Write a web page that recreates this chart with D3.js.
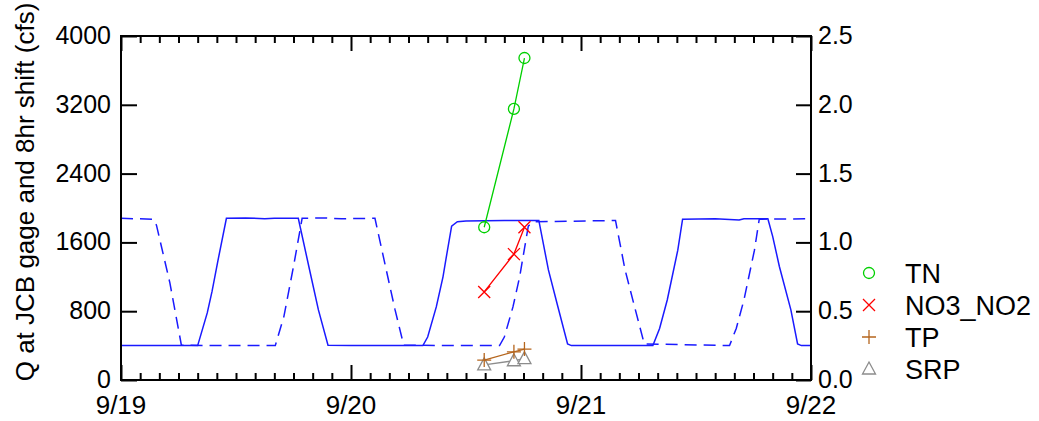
<!DOCTYPE html>
<html><head><meta charset="utf-8">
<script src="https://cdn.jsdelivr.net/npm/d3@7"></script>
<style>body{margin:0;background:#fff}svg{display:block;font-family:"Liberation Sans",Arial,sans-serif}</style>
</head><body><svg id="c" width="1039" height="421"></svg>
<script>
const flowQ = [
["2014-09-19T00:00",400],["2014-09-19T04:00",400],["2014-09-19T08:00",400],["2014-09-19T09:00",780],
["2014-09-19T09:30",1030],["2014-09-19T10:06",1380],["2014-09-19T11:00",1880],["2014-09-19T13:00",1885],
["2014-09-19T15:00",1875],["2014-09-19T16:00",1880],["2014-09-19T18:30",1880],["2014-09-19T19:36",1320],
["2014-09-19T20:36",815],["2014-09-19T21:36",405],["2014-09-20T00:00",400],["2014-09-20T07:30",400],
["2014-09-20T08:00",500],["2014-09-20T08:54",850],["2014-09-20T09:36",1200],["2014-09-20T09:54",1400],
["2014-09-20T10:30",1790],["2014-09-20T11:06",1840],["2014-09-20T12:00",1850],["2014-09-20T16:00",1855],
["2014-09-20T19:36",1855],["2014-09-20T20:36",1280],["2014-09-20T21:30",890],["2014-09-20T22:36",420],
["2014-09-20T23:00",400],["2014-09-21T07:30",400],["2014-09-21T08:12",600],["2014-09-21T09:00",930],
["2014-09-21T10:06",1510],["2014-09-21T10:36",1870],["2014-09-21T14:00",1875],["2014-09-21T16:30",1860],
["2014-09-21T17:00",1875],["2014-09-21T19:30",1875],["2014-09-21T20:00",1670],["2014-09-21T20:42",1320],
["2014-09-21T21:54",815],["2014-09-21T22:36",420],["2014-09-21T23:00",400],["2014-09-22T00:00",400]
];
const flowShift = [
["2014-09-19T00:00",1880],["2014-09-19T03:24",1870],["2014-09-19T03:42",1800],["2014-09-19T05:06",1130],
["2014-09-19T06:18",405],["2014-09-19T10:00",400],["2014-09-19T16:06",400],["2014-09-19T17:00",740],
["2014-09-19T18:00",1320],["2014-09-19T18:54",1880],["2014-09-19T21:00",1885],["2014-09-19T23:00",1875],
["2014-09-20T02:30",1880],["2014-09-20T03:36",1320],["2014-09-20T04:36",815],["2014-09-20T05:30",405],
["2014-09-20T10:00",400],["2014-09-20T15:30",400],["2014-09-20T16:00",500],["2014-09-20T16:54",850],
["2014-09-20T17:36",1200],["2014-09-20T18:30",1790],["2014-09-20T19:06",1840],["2014-09-21T03:36",1855],
["2014-09-21T04:36",1280],["2014-09-21T05:30",890],["2014-09-21T06:36",420],["2014-09-21T15:30",400],
["2014-09-21T16:12",600],["2014-09-21T17:00",930],["2014-09-21T18:06",1510],["2014-09-21T18:36",1870],
["2014-09-22T00:00",1875]
];
const sampleTimes = ["2014-09-20T13:54","2014-09-20T17:00","2014-09-20T18:06"];
const TN = [1.11, 1.97, 2.34];
const NO3_NO2 = [0.64, 0.915, 1.11];
const TP = [0.145, 0.205, 0.225];
const SRP = [0.11, 0.14, 0.155];
const leftTicks = [0, 800, 1600, 2400, 3200, 4000];
const rightTicks = [0, 0.5, 1.0, 1.5, 2.0, 2.5];
const yTitle = "Q at JCB gage and 8hr shift (cfs)";

const parse = d3.timeParse("%Y-%m-%dT%H:%M");
const svg = d3.select("#c");
const L = 121, R = 811, T = 36, B = 380;
const x = d3.scaleTime().domain([parse("2014-09-19T00:00"), parse("2014-09-22T00:00")]).range([L, R]);
const yL = d3.scaleLinear().domain([0, 4000]).range([B, T]);
const yR = d3.scaleLinear().domain([0, 2.5]).range([B, T]);

const blue = "#1a1aff";
const line = d3.line().x(d => x(parse(d[0]))).y(d => yL(d[1]));
svg.append("path").attr("d", line(flowShift)).attr("fill", "none").attr("stroke", blue)
  .attr("stroke-width", 1.5).attr("stroke-dasharray", "12,7");
svg.append("path").attr("d", line(flowQ)).attr("fill", "none").attr("stroke", blue).attr("stroke-width", 1.5);

const series = [
  {name: "TN", vals: TN, color: "#00d000", sym: "circle"},
  {name: "NO3_NO2", vals: NO3_NO2, color: "#ff0000", sym: "x"},
  {name: "TP", vals: TP, color: "#b5651d", sym: "plus"},
  {name: "SRP", vals: SRP, color: "#8c8c8c", sym: "tri"}
];
function marker(g, sym, cx, cy, color) {
  if (sym === "circle") g.append("circle").attr("cx", cx).attr("cy", cy).attr("r", 5.5).attr("fill", "none").attr("stroke", color).attr("stroke-width", 1.3);
  else if (sym === "x") g.append("path").attr("d", `M${cx-6},${cy-6}L${cx+6},${cy+6}M${cx-6},${cy+6}L${cx+6},${cy-6}`).attr("stroke", color).attr("stroke-width", 1.3);
  else if (sym === "plus") g.append("path").attr("d", `M${cx-7},${cy}L${cx+7},${cy}M${cx},${cy-7}L${cx},${cy+7}`).attr("stroke", color).attr("stroke-width", 1.3);
  else g.append("path").attr("d", `M${cx},${cy-7}L${cx+6.5},${cy+5}L${cx-6.5},${cy+5}Z`).attr("fill", "#fff").attr("stroke", color).attr("stroke-width", 1.3);
}
const nline = d3.line().x((d, i) => x(parse(sampleTimes[i]))).y(d => yR(d));
[...series].reverse().forEach(s => {
  const g = svg.append("g");
  g.append("path").attr("d", nline(s.vals)).attr("fill", "none").attr("stroke", s.color).attr("stroke-width", 1.3);
  s.vals.forEach((v, i) => marker(g, s.sym, x(parse(sampleTimes[i])), yR(v), s.color));
});

// axes
const days = d3.timeDay.range(parse("2014-09-19T00:00"), parse("2014-09-22T00:01"));
const minors = d3.timeHour.every(2).range(parse("2014-09-19T00:00"), parse("2014-09-22T00:01")).filter(d => d.getHours() !== 0);
const fmt = d3.timeFormat("%-m/%-d");
const ax = svg.append("g").attr("stroke", "#000").attr("stroke-width", 2);
ax.append("g").attr("transform", `translate(0,${B})`).call(d3.axisBottom(x).tickValues(minors).tickSize(-7).tickFormat("")).call(g => g.select(".domain").remove());
ax.append("g").attr("transform", `translate(0,${B})`).call(d3.axisBottom(x).tickValues(days).tickSize(-15).tickFormat("")).call(g => g.select(".domain").remove());
ax.append("g").attr("transform", `translate(0,${T})`).call(d3.axisTop(x).tickValues(minors).tickSize(-7).tickFormat("")).call(g => g.select(".domain").remove());
ax.append("g").attr("transform", `translate(0,${T})`).call(d3.axisTop(x).tickValues(days).tickSize(-15).tickFormat("")).call(g => g.select(".domain").remove());
ax.append("g").attr("transform", `translate(${L},0)`).call(d3.axisLeft(yL).tickValues(leftTicks).tickSize(-16).tickFormat("")).call(g => g.select(".domain").remove());
ax.append("g").attr("transform", `translate(${R},0)`).call(d3.axisRight(yR).tickValues(rightTicks).tickSize(-15).tickFormat("")).call(g => g.select(".domain").remove());
svg.selectAll(".tick line").attr("stroke", "#000").attr("stroke-width", 2);
svg.append("rect").attr("x", L).attr("y", T).attr("width", R - L).attr("height", B - T)
  .attr("fill", "none").attr("stroke", "#000").attr("stroke-width", 2);

// labels
const tg = svg.append("g").attr("fill", "#000");
leftTicks.forEach(v => tg.append("text").attr("x", 111).attr("y", yL(v) + 8).attr("text-anchor", "end").attr("font-size", 25).text(v));
rightTicks.forEach(v => tg.append("text").attr("x", 818).attr("y", yR(v) + 8).attr("font-size", 25).text(v.toFixed(1)));
days.forEach(d => tg.append("text").attr("x", x(d)).attr("y", 414).attr("text-anchor", "middle").attr("font-size", 26).text(fmt(d)));
tg.append("text").attr("transform", "translate(34,192) rotate(-90)").attr("text-anchor", "middle").attr("font-size", 26).text(yTitle);

// legend
series.forEach((s, i) => {
  const cy = 273 + i * 32;
  marker(svg.append("g"), s.sym, 869, cy, s.color);
  svg.append("text").attr("x", 905).attr("y", cy + 10).attr("font-size", 27).text(s.name);
});
</script></body></html>
